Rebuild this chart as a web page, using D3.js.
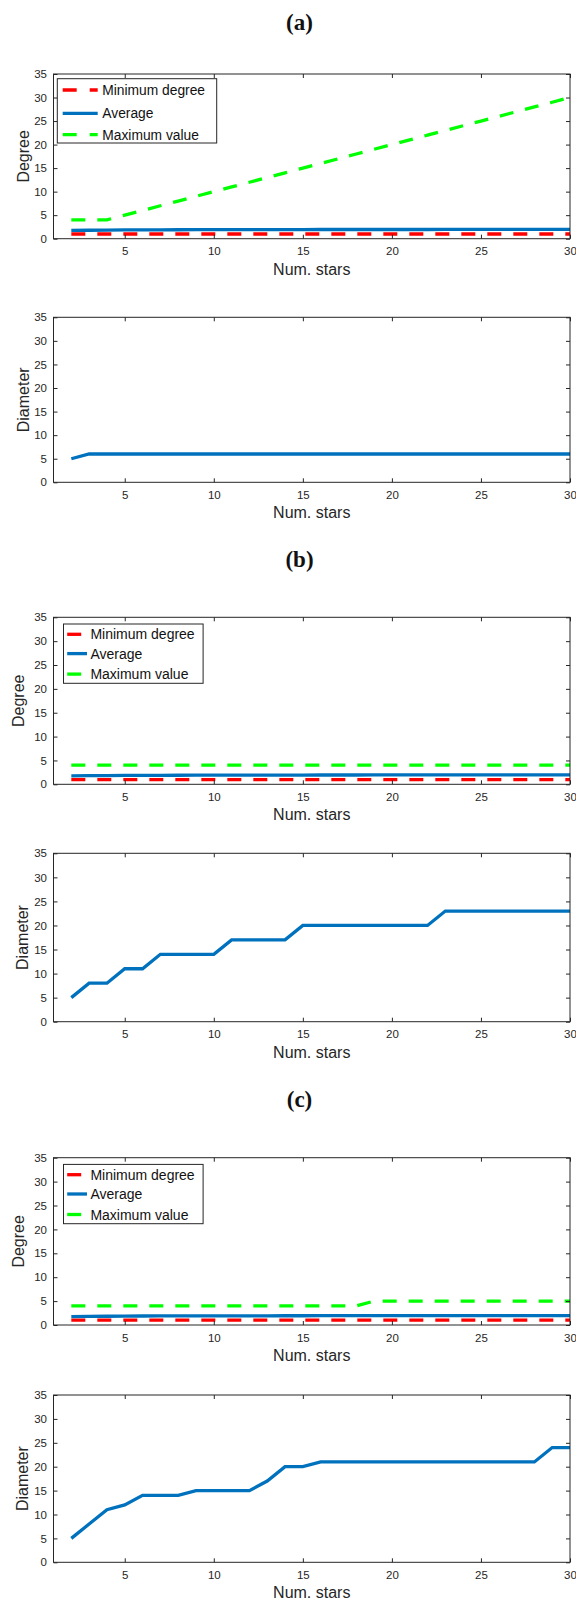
<!DOCTYPE html>
<html>
<head>
<meta charset="utf-8">
<script src="https://cdnjs.cloudflare.com/ajax/libs/d3/7.8.5/d3.min.js"></script>
<style>
body { margin: 0; background: #fff; }
svg text { font-family: "Liberation Sans", Arial, sans-serif; }
</style>
</head>
<body>
<div id="chart"></div>
<script>
// x values (number of stars)
var stars = [2,3,4,5,6,7,8,9,10,11,12,13,14,15,16,17,18,19,20,21,22,23,24,25,26,27,28,29,30];

var minDeg = [1,1,1,1,1,1,1,1,1,1,1,1,1,1,1,1,1,1,1,1,1,1,1,1,1,1,1,1,1];
var avgDeg = [1.75,1.8,1.83,1.86,1.88,1.89,1.9,1.91,1.92,1.92,1.93,1.93,1.94,1.94,1.95,1.95,1.95,1.96,1.96,1.96,1.96,1.97,1.97,1.97,1.97,1.97,1.98,1.98,1.98];

var maxDegA = [4,4,4,5,6,7,8,9,10,11,12,13,14,15,16,17,18,19,20,21,22,23,24,25,26,27,28,29,30];
var diamA   = [5,6,6,6,6,6,6,6,6,6,6,6,6,6,6,6,6,6,6,6,6,6,6,6,6,6,6,6,6];

var maxDegB = [4,4,4,4,4,4,4,4,4,4,4,4,4,4,4,4,4,4,4,4,4,4,4,4,4,4,4,4,4];
var diamB   = [5,8,8,11,11,14,14,14,14,17,17,17,17,20,20,20,20,20,20,20,20,23,23,23,23,23,23,23,23];

var maxDegC = [4,4,4,4,4,4,4,4,4,4,4,4,4,4,4,4,4,5,5,5,5,5,5,5,5,5,5,5,5];
var diamC   = [5,8,11,12,14,14,14,15,15,15,15,17,20,20,21,21,21,21,21,21,21,21,21,21,21,21,21,24,24];

var xTicks = [5,10,15,20,25,30];
var yTicks = [0,5,10,15,20,25,30,35];
var legendNames = ["Minimum degree", "Average", "Maximum value"];
var panelTitles = ["(a)", "(b)", "(c)"];

var W = 576, H = 1604;
var left = 53.5, right = 570;
var axisColor = "#262626";
var red = "#ff0000", blue = "#0072bd", green = "#00ff00";

var svg = d3.select("#chart").append("svg")
            .attr("width", W)
            .attr("height", H);

var x = d3.scaleLinear().domain([1, 30]).range([left, right]);
var clipId = 0;

function drawAxes(top, bottom, ylabel, ylabelX, series, legend) {
    var y = d3.scaleLinear().domain([0, 35]).range([bottom, top]);
    var g = svg.append("g");

    clipId++;
    g.append("clipPath").attr("id", "clip" + clipId)
     .append("rect")
     .attr("x", left).attr("y", top)
     .attr("width", right - left).attr("height", bottom - top);

    var lineGen = d3.line()
        .x(function(d) { return x(d[0]); })
        .y(function(d) { return y(d[1]); });

    var plot = g.append("g").attr("clip-path", "url(#clip" + clipId + ")");
    series.forEach(function(s) {
        var pts = stars.map(function(v, i) { return [v, s.values[i]]; });
        plot.append("path")
            .attr("d", lineGen(pts))
            .attr("fill", "none")
            .attr("stroke", s.color)
            .attr("stroke-width", 3.3)
            .attr("stroke-dasharray", s.dash ? "14,12" : null);
    });

    // axes (ticks inward on all four sides)
    var bx = g.append("g").attr("transform", "translate(0," + bottom + ")")
        .call(d3.axisBottom(x).tickValues(xTicks).tickSizeInner(-4).tickSizeOuter(0).tickPadding(8.5));
    var tx = g.append("g").attr("transform", "translate(0," + top + ")")
        .call(d3.axisTop(x).tickValues(xTicks).tickSizeInner(-4).tickSizeOuter(0).tickFormat(""));
    var ly = g.append("g").attr("transform", "translate(" + left + ",0)")
        .call(d3.axisLeft(y).tickValues(yTicks).tickSizeInner(-4).tickSizeOuter(0).tickPadding(6.5));
    var ry = g.append("g").attr("transform", "translate(" + right + ",0)")
        .call(d3.axisRight(y).tickValues(yTicks).tickSizeInner(-4).tickSizeOuter(0).tickFormat(""));

    [bx, tx, ly, ry].forEach(function(a) {
        a.select(".domain").remove();
        a.selectAll("line").attr("stroke", axisColor);
        a.selectAll("text")
         .attr("fill", axisColor)
         .style("font-size", "11.5px")
         .style("font-family", "'Liberation Sans', Arial, sans-serif");
    });

    g.append("rect")
     .attr("x", left).attr("y", top)
     .attr("width", right - left).attr("height", bottom - top)
     .attr("fill", "none")
     .attr("stroke", axisColor)
     .attr("stroke-width", 1);

    g.append("text")
     .attr("x", (left + right) / 2)
     .attr("y", bottom + 36)
     .attr("text-anchor", "middle")
     .attr("fill", axisColor)
     .style("font-size", "16px")
     .text("Num. stars");

    g.append("text")
     .attr("transform", "translate(" + (ylabelX + 5.5) + "," + ((top + bottom) / 2) + ") rotate(-90)")
     .attr("text-anchor", "middle")
     .attr("fill", axisColor)
     .style("font-size", "16px")
     .text(ylabel);

    if (legend) {
        var lg = g.append("g");
        lg.append("rect")
          .attr("x", legend.x0).attr("y", top + legend.y0)
          .attr("width", legend.x1 - legend.x0).attr("height", legend.y1 - legend.y0)
          .attr("fill", "#fff")
          .attr("stroke", axisColor)
          .attr("stroke-width", 1);
        series.forEach(function(s, i) {
            var ry = top + legend.rows[i];
            lg.append("line")
              .attr("x1", legend.s0).attr("x2", legend.s1)
              .attr("y1", ry).attr("y2", ry)
              .attr("stroke", s.color)
              .attr("stroke-width", 3.3)
              .attr("stroke-dasharray", s.dash ? "14,13" : null);
            lg.append("text")
              .attr("x", legend.tx)
              .attr("y", ry)
              .attr("dy", "0.36em")
              .attr("fill", "#111")
              .style("font-size", legend.fs + "px")
              .text(legendNames[i]);
        });
    }
}

function title(txt, yBase) {
    svg.append("text")
       .attr("x", 299.5)
       .attr("y", yBase)
       .attr("text-anchor", "middle")
       .style("font-family", "'Liberation Serif', 'DejaVu Serif', serif")
       .style("font-size", "23px")
       .style("font-weight", "bold")
       .attr("fill", "#111")
       .text(txt);
}

var legendA = {x0: 57.3, x1: 216.7, y0: 4.7, y1: 69, rows: [16, 39.3, 60.7], s0: 62.7, s1: 97.7, tx: 102.3, fs: 13.8};
var legendBC = {x0: 63.5, x1: 203.1, y0: 6.7, y1: 66, rows: [17, 36.3, 56.8], s0: 67.2, s1: 87, tx: 90.4, fs: 14};

// (a)
title(panelTitles[0], 30);
drawAxes(74, 238.7, "Degree", 23.9, [
    {values: minDeg, color: red, dash: true},
    {values: avgDeg, color: blue, dash: false},
    {values: maxDegA, color: green, dash: true}
], legendA);
drawAxes(317.3, 482.3, "Diameter", 23.9, [
    {values: diamA, color: blue, dash: false}
], null);

// (b)
title(panelTitles[1], 567);
drawAxes(617.3, 784.3, "Degree", 18.4, [
    {values: minDeg, color: red, dash: true},
    {values: avgDeg, color: blue, dash: false},
    {values: maxDegB, color: green, dash: true}
], legendBC);
drawAxes(853.3, 1021.7, "Diameter", 22, [
    {values: diamB, color: blue, dash: false}
], null);

// (c)
title(panelTitles[2], 1107);
drawAxes(1157.7, 1325, "Degree", 18.4, [
    {values: minDeg, color: red, dash: true},
    {values: avgDeg, color: blue, dash: false},
    {values: maxDegC, color: green, dash: true}
], legendBC);
drawAxes(1395, 1562.3, "Diameter", 22, [
    {values: diamC, color: blue, dash: false}
], null);
</script>
</body>
</html>
